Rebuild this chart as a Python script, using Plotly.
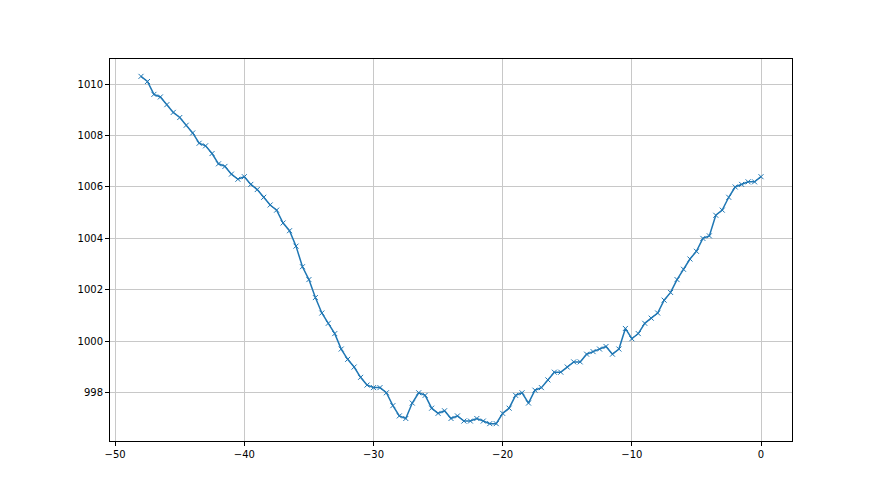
import numpy as np
import plotly.graph_objects as go

# x positions: -48 .. 0 in steps of 0.5 (97 points)
x_start = -48.0
x_step = 0.5
pressure = [
    1010.3, 1010.1, 1009.6, 1009.5, 1009.2, 1008.9, 1008.7, 1008.4, 1008.1, 1007.7,
    1007.6, 1007.3, 1006.9, 1006.8, 1006.5, 1006.3, 1006.4, 1006.1, 1005.9,
    1005.6, 1005.3, 1005.1, 1004.6, 1004.3, 1003.7, 1002.9, 1002.4, 1001.7, 1001.1,
    1000.7, 1000.3, 999.7, 999.3, 999.0, 998.6, 998.3, 998.2, 998.2,
    998.0, 997.5, 997.1, 997.0, 997.6, 998.0, 997.9, 997.4, 997.2, 997.3,
    997.0, 997.1, 996.9, 996.9, 997.0, 996.9, 996.8, 996.8, 997.2, 997.4,
    997.9, 998.0, 997.6, 998.1, 998.2, 998.5, 998.8, 998.8, 999.0, 999.2,
    999.2, 999.5, 999.6, 999.7, 999.8, 999.5, 999.7, 1000.5, 1000.1,
    1000.3, 1000.7, 1000.9, 1001.1, 1001.6, 1001.9, 1002.4, 1002.8, 1003.2, 1003.5,
    1004.0, 1004.1, 1004.9, 1005.1, 1005.6, 1006.0, 1006.1, 1006.2, 1006.2, 1006.4,
]
hours = [x_start + i * x_step for i in range(len(pressure))]

x_ticks = [-50, -40, -30, -20, -10, 0]
y_ticks = [998, 1000, 1002, 1004, 1006, 1008, 1010]

def padded(lo, hi, frac=0.05):
    m = (hi - lo) * frac
    return [lo - m, hi + m]

fig = go.Figure()
fig.add_trace(go.Scatter(
    x=hours, y=pressure, mode="lines+markers",
    line=dict(color="#1f77b4", width=1.5),
    marker=dict(symbol="x-thin", size=5, color="#1f77b4",
                line=dict(color="#1f77b4", width=1)),
    showlegend=False,
))

axis_common = dict(
    showgrid=True, gridcolor="#c8c8c8", gridwidth=1,
    showline=True, linecolor="black", linewidth=1, mirror=True,
    ticks="outside", ticklen=4, tickwidth=1, tickcolor="black",
    tickfont=dict(family="DejaVu Sans", size=10, color="black"),
    zeroline=False,
)
fig.update_xaxes(range=padded(min(hours), max(hours)), tickvals=x_ticks,
                 **axis_common)
fig.update_yaxes(range=padded(min(pressure), max(pressure)), tickvals=y_ticks,
                 **axis_common)

fig.update_layout(
    width=880, height=495,
    margin=dict(l=102, r=96, t=51, b=62),
    paper_bgcolor="white", plot_bgcolor="white",
)
fig.write_html("out.html")
